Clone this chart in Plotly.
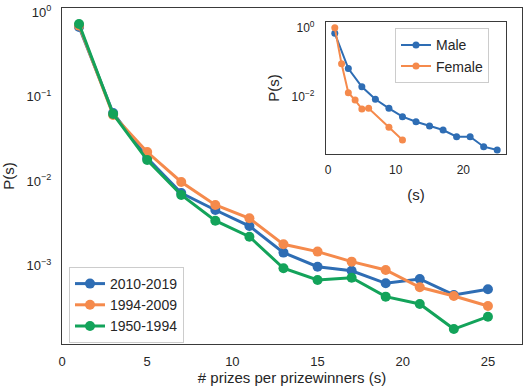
import plotly.graph_objects as go

# ---------------- data ----------------
s_main = [1, 3, 5, 7, 9, 11, 13, 15, 17, 19, 21, 23, 25]
p_2010_2019 = [0.664, 0.0638, 0.0187, 0.00721, 0.00454, 0.00293, 0.00142,
               0.000968, 0.000867, 0.000615, 0.000692, 0.000448, 0.000523]
p_1994_2009 = [0.69, 0.0604, 0.0220, 0.00973, 0.00520, 0.00362, 0.00178,
               0.00146, 0.00111, 0.000885, 0.000552, 0.000436, 0.000332]
p_1950_1994 = [0.721, 0.0621, 0.0177, 0.00683, 0.00339, 0.00219, 0.000927,
               0.000673, 0.000717, 0.000428, 0.000350, 0.000177, 0.000248]
series_names = ["2010-2019", "1994-2009", "1950-1994"]

s_male = [1, 3, 5, 7, 9, 11, 13, 15, 17, 19, 21, 23, 25]
p_male = [0.679, 0.0645, 0.0192, 0.0083, 0.00455, 0.0026, 0.00186,
          0.0014, 0.00107, 0.000684, 0.000684, 0.000351, 0.000281]
s_female = [1, 2, 3, 4, 5, 6, 9, 11]
p_female = [0.98, 0.0885, 0.0129, 0.0079, 0.00434, 0.00455, 0.00128, 0.00055]
inset_names = ["Male", "Female"]

main_xticks = [0, 5, 10, 15, 20, 25]
main_yticks = [1e-3, 1e-2, 1e-1, 1]
main_yticklabels = ["10<sup>−3</sup>", "10<sup>−2</sup>", "10<sup>−1</sup>", "10<sup>0</sup>"]
inset_xticks = [0, 10, 20]
inset_yticks = [1e-2, 1]
inset_yticklabels = ["10<sup>−2</sup>", "10<sup>0</sup>"]

x_title = "# prizes per prizewinners (s)"
y_title = "P(s)"
inset_x_title = "(s)"
inset_y_title = "P(s)"

# ---------------- style ----------------
BLUE = "#2e6db4"
ORANGE = "#f58a4c"
GREEN = "#13a35a"
TXT = "#262626"
SPINE = "#3a3a3a"
FONT = "Liberation Sans, Arial, sans-serif"

fig = go.Figure()

for name, vals, col in zip(series_names, [p_2010_2019, p_1994_2009, p_1950_1994],
                           [BLUE, ORANGE, GREEN]):
    fig.add_trace(go.Scatter(
        x=s_main, y=vals, name=name, mode="lines+markers",
        line=dict(color=col, width=3),
        marker=dict(color=col, size=10),
        xaxis="x", yaxis="y", legend="legend"))

for name, sx, vals, col in zip(inset_names, [s_male, s_female], [p_male, p_female],
                               [BLUE, ORANGE]):
    fig.add_trace(go.Scatter(
        x=sx, y=vals, name=name, mode="lines+markers",
        line=dict(color=col, width=2),
        marker=dict(color=col, size=7),
        xaxis="x2", yaxis="y2", legend="legend2"))

W, H = 526, 389
L, R, T, B = 62, 4, 8, 45
pw, ph = W - L - R, H - T - B


def px2fx(x):
    return (x - L) / pw


def px2fy(y):
    return (H - B - y) / ph


common = dict(showgrid=False, zeroline=False, showline=True, mirror=True,
              linecolor=SPINE, ticks="", automargin=False)

fig.update_layout(
    width=W, height=H,
    margin=dict(l=L, r=R, t=T, b=B, autoexpand=False),
    paper_bgcolor="white", plot_bgcolor="white",
    font=dict(family=FONT, color=TXT, size=13),
    showlegend=True,
    xaxis=dict(
        domain=[0, 1], range=[0, 27], tickvals=main_xticks,
        linewidth=1.3, ticklabelstandoff=5,
        tickfont=dict(size=13),
        title=dict(text=x_title, font=dict(size=15), standoff=4),
        anchor="y", **common),
    yaxis=dict(
        domain=[0, 1], type="log", range=[-3.929, 0.047],
        tickvals=main_yticks, ticktext=main_yticklabels,
        linewidth=1.3, ticklabelstandoff=7,
        tickfont=dict(size=13),
        title=dict(text=y_title, font=dict(size=15), standoff=9),
        anchor="x", **common),
    xaxis2=dict(
        domain=[px2fx(326), px2fx(506)], range=[-0.3, 26.3], tickvals=inset_xticks,
        linewidth=1.2, ticklabelstandoff=4,
        tickfont=dict(size=12),
        title=dict(text=inset_x_title, font=dict(size=15), standoff=13),
        anchor="y2", **common),
    yaxis2=dict(
        domain=[px2fy(154.3), px2fy(21.7)], type="log", range=[-3.675, 0.168],
        tickvals=inset_yticks, ticktext=inset_yticklabels,
        linewidth=1.2, ticklabelstandoff=8,
        tickfont=dict(size=12),
        title=dict(text=inset_y_title, font=dict(size=15), standoff=8),
        anchor="x2", **common),
    legend=dict(
        x=px2fx(69), y=px2fy(267), xanchor="left", yanchor="top",
        bgcolor="rgba(255,255,255,0.85)", bordercolor="#cccccc", borderwidth=1,
        font=dict(size=14, color=TXT), tracegroupgap=0),
    legend2=dict(
        x=px2fx(395), y=px2fy(28.3), xanchor="left", yanchor="top",
        bgcolor="rgba(255,255,255,0.85)", bordercolor="#cccccc", borderwidth=1,
        font=dict(size=14, color=TXT), tracegroupgap=0),
)

fig.write_html("out.html",
               config={"displayModeBar": False},
               post_script="document.body.style.margin='0';document.body.style.overflow='hidden';")
